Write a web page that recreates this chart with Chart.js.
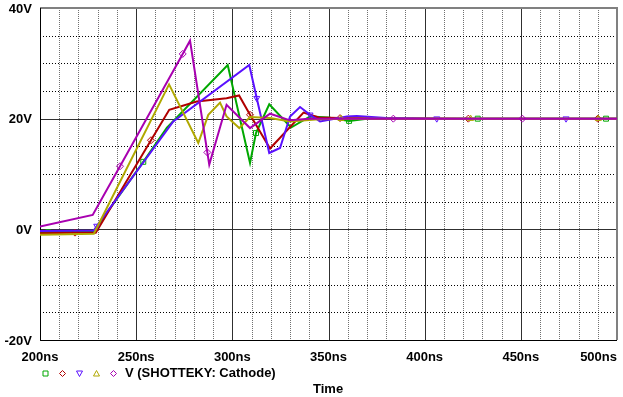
<!DOCTYPE html>
<html>
<head>
<meta charset="utf-8">
<script src="https://cdn.jsdelivr.net/npm/chart.js@4.4.1/dist/chart.umd.min.js"></script>
<style>
  html, body { margin: 0; padding: 0; background: #fff; }
  #wrap { width: 623px; height: 397px; }
</style>
</head>
<body>
<div id="wrap"><canvas id="cathode-plot"></canvas></div>
<script>
// V(SHOTTEKY: Cathode), five runs, time in ns / voltage in V
const greenTime = [200, 204.3, 228, 253.7, 266, 297.6, 309.2, 312.3, 319.2, 330.5, 340.4, 350, 360.7, 370, 380, 427.6, 494.3, 500];
const greenVolts = [-0.5, -0.5, -0.3, 12.2, 18.4, 29.7, 12.0, 17.4, 22.6, 18.4, 20.4, 20.2, 19.6, 20.0, 20.0, 20, 20, 20];
const greenMarks = [204.3, 253.7, 312.3, 360.7, 427.6, 494.3];

const redTime = [200, 218.2, 229, 257.7, 267.2, 281.5, 297, 303.5, 309.2, 319.6, 337, 345, 356, 422.7, 490, 500];
const redVolts = [-0.7, -0.6, -0.6, 16.1, 21.6, 23.1, 23.7, 24.2, 20.7, 14.6, 21.1, 20.2, 20.1, 20, 20, 20];
const redMarks = [218.2, 257.7, 309.2, 356, 422.7, 490];

const blueTime = [200, 228, 229.5, 269.3, 308.8, 312.7, 319.2, 324.8, 330, 335.2, 340.4, 345.6, 359.5, 364.7, 380, 406.3, 473.5, 500];
const blueVolts = [-0.3, -0.2, 0.6, 19.5, 29.7, 23.7, 13.8, 14.7, 20.4, 22.1, 20.7, 19.5, 20.4, 20.5, 20.1, 20, 20, 20];
const blueMarks = [229.5, 312.7, 340.4, 406.3, 473.5];

const yellowTime = [200, 228, 267.1, 282.3, 287.5, 293.6, 297, 303.6, 309.2, 319.6, 330, 345, 356.5, 423.9, 490.3, 500];
const yellowVolts = [-1.0, -0.8, 26.2, 15.6, 20.7, 22.9, 20.4, 18.3, 20.3, 20.1, 19.5, 19.9, 20, 20, 20, 20];
const yellowMarks = [356.5, 423.9, 490.3];

const purpleTime = [200, 227.4, 241.6, 274.2, 278, 287, 288, 297, 309.2, 319.6, 330, 340, 383.7, 450.8, 500];
const purpleVolts = [0.5, 2.6, 11.4, 31.7, 34.1, 13.9, 11.7, 22.5, 18.3, 20.9, 19.7, 20.0, 20, 20, 20];
const purpleMarks = [241.6, 274.2, 287, 383.7, 450.8];

const xTickValues = [200, 250, 300, 350, 400, 450, 500];
const xTickLabels = ["200ns", "250ns", "300ns", "350ns", "400ns", "450ns", "500ns"];
const yTickValues = [40, 20, 0, -20];
const yTickLabels = ["40V", "20V", "0V", "-20V"];

const traceLabel = "V (SHOTTEKY: Cathode)";
const axisTitle = "Time";

const FONT = "bold 13px 'Liberation Sans', Arial, sans-serif";

function toPoints(ts, vs) {
  return ts.map((t, i) => ({ x: t, y: vs[i] }));
}

function trace(ts, vs, marks, color, style, rot) {
  return {
    data: toPoints(ts, vs),
    borderColor: color,
    borderWidth: 2,
    tension: 0,
    fill: false,
    pointStyle: style,
    rotation: rot || 0,
    pointBorderColor: color,
    pointBackgroundColor: "rgba(0,0,0,0)",
    pointBorderWidth: 1,
    pointRadius: (c) => (c.raw && marks.includes(c.raw.x) ? 3.5 : 0),
    pointHoverRadius: 0,
  };
}

const colors = {
  green: "#00a800",
  red: "#b00000",
  blue: "#5a10ff",
  yellow: "#b0a800",
  purple: "#a800b0",
};

// legend order as PSpice shows it
const legendItems = [
  { color: colors.green, shape: "square" },
  { color: colors.red, shape: "diamond" },
  { color: colors.blue, shape: "down" },
  { color: colors.yellow, shape: "up" },
  { color: colors.purple, shape: "diamond" },
];

const gridPlugin = {
  id: "pspiceGrid",
  beforeDatasetsDraw(chart) {
    const { ctx, chartArea: a, scales } = chart;
    const xs = scales.x, ys = scales.y;
    ctx.save();
    ctx.lineWidth = 1;
    // vertical lines every 10ns
    for (let t = 200; t <= 500; t += 10) {
      const px = Math.round(xs.getPixelForValue(t)) + 0.5;
      if (t % 50 === 0) {
        ctx.setLineDash([]);
        ctx.strokeStyle = "#303030";
      } else {
        ctx.setLineDash([1, 1]);
        ctx.strokeStyle = "#707070";
      }
      ctx.beginPath();
      ctx.moveTo(px, a.top);
      ctx.lineTo(px, a.bottom);
      ctx.stroke();
    }
    // horizontal lines every 5V
    for (let v = -20; v <= 40; v += 5) {
      const py = Math.round(ys.getPixelForValue(v)) + 0.5;
      if (v % 20 === 0) {
        ctx.setLineDash([]);
        ctx.strokeStyle = "#303030";
      } else {
        ctx.setLineDash([1, 2]);
        ctx.strokeStyle = "#000";
      }
      ctx.beginPath();
      ctx.moveTo(a.left, py);
      ctx.lineTo(a.right, py);
      ctx.stroke();
    }
    ctx.setLineDash([]);
    // frame
    ctx.strokeStyle = "#808080";
    ctx.lineWidth = 2;
    ctx.beginPath();
    ctx.moveTo(a.left, a.top);
    ctx.lineTo(a.right, a.top);
    ctx.lineTo(a.right, a.bottom);
    ctx.stroke();
    ctx.strokeStyle = "#000";
    ctx.lineWidth = 1;
    ctx.beginPath();
    ctx.moveTo(Math.round(a.left) + 0.5, a.top);
    ctx.lineTo(Math.round(a.left) + 0.5, Math.round(a.bottom) + 0.5);
    ctx.lineTo(a.right, Math.round(a.bottom) + 0.5);
    ctx.stroke();
    ctx.restore();
  },
};

function drawShape(ctx, shape, x, y, r) {
  ctx.beginPath();
  if (shape === "square") {
    ctx.rect(x - r, y - r, r * 2, r * 2);
  } else if (shape === "diamond") {
    ctx.moveTo(x, y - r - 0.5);
    ctx.lineTo(x + r + 0.5, y);
    ctx.lineTo(x, y + r + 0.5);
    ctx.lineTo(x - r - 0.5, y);
    ctx.closePath();
  } else if (shape === "up") {
    ctx.moveTo(x, y - r - 0.5);
    ctx.lineTo(x + r + 0.5, y + r);
    ctx.lineTo(x - r - 0.5, y + r);
    ctx.closePath();
  } else {
    ctx.moveTo(x - r - 0.5, y - r);
    ctx.lineTo(x + r + 0.5, y - r);
    ctx.lineTo(x, y + r + 0.5);
    ctx.closePath();
  }
  ctx.stroke();
}

const labelPlugin = {
  id: "pspiceLabels",
  afterDraw(chart) {
    const { ctx, chartArea: a, scales } = chart;
    ctx.save();
    ctx.font = FONT;
    ctx.fillStyle = "#000";
    ctx.textBaseline = "middle";

    ctx.textAlign = "right";
    yTickValues.forEach((v, i) => {
      ctx.fillText(yTickLabels[i], a.left - 8, scales.y.getPixelForValue(v) + 1);
    });

    xTickValues.forEach((t, i) => {
      const px = scales.x.getPixelForValue(t);
      const w = ctx.measureText(xTickLabels[i]).width;
      if (px + w / 2 > chart.width - 2) {
        ctx.textAlign = "right";
        ctx.fillText(xTickLabels[i], a.right, a.bottom + 17);
      } else {
        ctx.textAlign = "center";
        ctx.fillText(xTickLabels[i], px, a.bottom + 17);
      }
    });

    // legend row
    ctx.lineWidth = 1;
    legendItems.forEach((item, i) => {
      ctx.strokeStyle = item.color;
      drawShape(ctx, item.shape, 45.5 + i * 17, 373.5, 2.5);
    });
    ctx.textAlign = "left";
    ctx.fillText(traceLabel, 125, 373);
    ctx.fillText(axisTitle, 313, 389);
    ctx.restore();
  },
};

new Chart(document.getElementById("cathode-plot"), {
  type: "line",
  data: {
    // first dataset is painted last, so purple sits on top like in PSpice
    datasets: [
      trace(purpleTime, purpleVolts, purpleMarks, colors.purple, "rectRot"),
      trace(yellowTime, yellowVolts, yellowMarks, colors.yellow, "triangle"),
      trace(blueTime, blueVolts, blueMarks, colors.blue, "triangle", 180),
      trace(redTime, redVolts, redMarks, colors.red, "rectRot"),
      trace(greenTime, greenVolts, greenMarks, colors.green, "rect"),
    ],
  },
  options: {
    responsive: true,
    maintainAspectRatio: false,
    animation: false,
    layout: {
      padding: { left: 40, right: 6, top: 8, bottom: 57 },
    },
    scales: {
      x: { type: "linear", min: 200, max: 500, display: false },
      y: { type: "linear", min: -20, max: 40, display: false },
    },
    plugins: {
      legend: { display: false },
      tooltip: { enabled: false },
    },
  },
  plugins: [gridPlugin, labelPlugin],
});
</script>
</body>
</html>
